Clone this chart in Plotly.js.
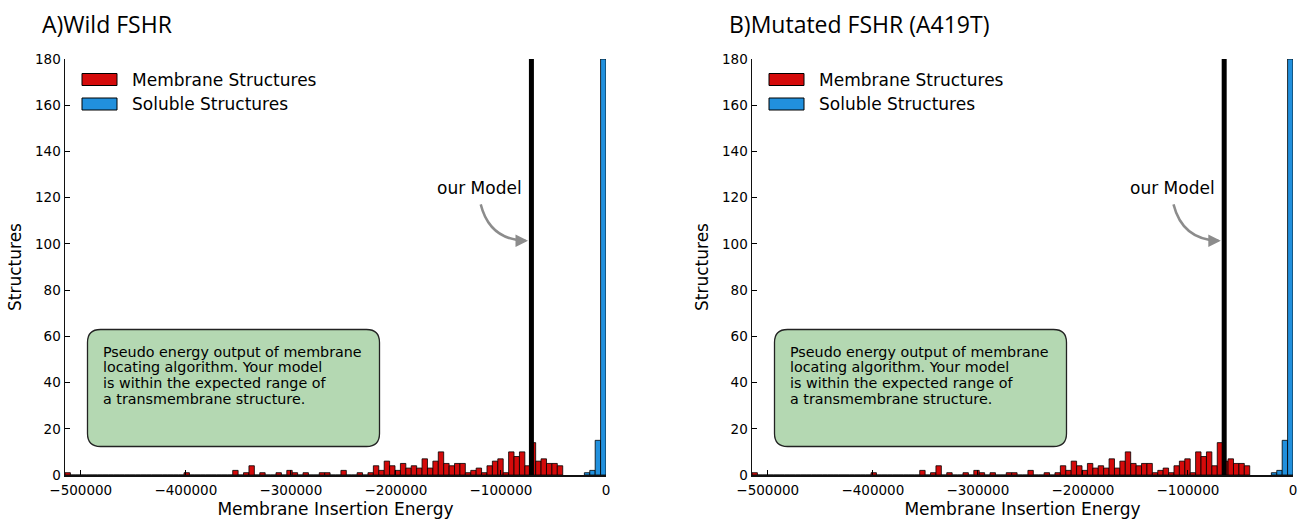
<!DOCTYPE html>
<html>
<head>
<meta charset="utf-8">
<script src="https://cdn.plot.ly/plotly-3.0.1.min.js"></script>
<style>html,body{margin:0;padding:0;background:#fff;}#chart{width:1298px;height:519px;}</style>
</head>
<body>
<div id="chart"></div>
<script>
// ---------------- data ----------------
const panelTitles = ['A)Wild FSHR', 'B)Mutated FSHR (A419T)'];
const modelEnergy = [-71000, -65500];
const legendLabels = ['Membrane Structures', 'Soluble Structures'];
const modelLabel = 'our Model';
const infoLines = [
  'Pseudo energy output of membrane',
  'locating algorithm. Your model',
  'is within the expected range of',
  'a transmembrane structure.'
];
const xTitle = 'Membrane Insertion Energy';
const yTitle = 'Structures';

// histogram bins (energy)
const binWidth = 5150;
const membraneBinStart = -515000;
const solubleBinStart = -20600;
const membraneCounts = [
  1,0,0,0,0,0,0,0,0,0, 0,0,0,0,0,0,0,0,0,0,
  0,0,1,0,0,0,0,0,0,0, 0,2,0,1,4,0,1,0,0,1,
  0,2,1,0,1,0,0,1,1,0, 0,2,0,0,1,0,1,4,2,6,
  4,2,5,3,4,3,7,3,6,10, 5,4,5,5,1,2,3,1,4,6,
  7,1,10,8,10,4,14,6,7,5, 5,4
];
const solubleCounts = [1, 2, 15, 180];

const xTickVals = [-500000, -400000, -300000, -200000, -100000, 0];
const xTickText = ['\u2212500000', '\u2212400000', '\u2212300000', '\u2212200000', '\u2212100000', '0'];
const yTickVals = [0, 20, 40, 60, 80, 100, 120, 140, 160, 180];

// ---------------- styling / geometry ----------------
const RED = '#d40a0a', BLUE = '#2190dd';
const FONT = 'DejaVu Sans';
const L = 65, R = 1293, T = 59, B = 475;
const px = x => (x - L) / (R - L);
const py = y => (B - y) / (B - T);
const panelShift = [0, 687];

function membraneX() { return membraneCounts.map((_, i) => membraneBinStart + (i + 0.5) * binWidth); }
function solubleX() { return solubleCounts.map((_, i) => solubleBinStart + (i + 0.5) * binWidth); }

function roundRect(x0, y0, x1, y1, r) {
  const X = v => px(v).toFixed(5), Y = v => py(v).toFixed(5);
  return 'M' + X(x0 + r) + ',' + Y(y0) +
    ' L' + X(x1 - r) + ',' + Y(y0) +
    ' Q' + X(x1) + ',' + Y(y0) + ' ' + X(x1) + ',' + Y(y0 + r) +
    ' L' + X(x1) + ',' + Y(y1 - r) +
    ' Q' + X(x1) + ',' + Y(y1) + ' ' + X(x1 - r) + ',' + Y(y1) +
    ' L' + X(x0 + r) + ',' + Y(y1) +
    ' Q' + X(x0) + ',' + Y(y1) + ' ' + X(x0) + ',' + Y(y1 - r) +
    ' L' + X(x0) + ',' + Y(y0 + r) +
    ' Q' + X(x0) + ',' + Y(y0) + ' ' + X(x0 + r) + ',' + Y(y0) + ' Z';
}

const traces = [];
const shapes = [];
const annotations = [];

panelTitles.forEach((title, p) => {
  const xa = p === 0 ? 'x' : 'x2';
  const ya = p === 0 ? 'y' : 'y2';
  const dx = panelShift[p];
  const m = modelEnergy[p];

  traces.push({
    type: 'bar', x: membraneX(), y: membraneCounts, width: binWidth,
    xaxis: xa, yaxis: ya, name: legendLabels[0], showlegend: false,
    marker: {color: RED, line: {color: '#000', width: 0.8}}, hoverinfo: 'skip'
  });
  traces.push({
    type: 'bar', x: solubleX(), y: solubleCounts, width: binWidth,
    xaxis: xa, yaxis: ya, name: legendLabels[1], showlegend: false,
    marker: {color: BLUE, line: {color: '#000', width: 0.8}}, hoverinfo: 'skip'
  });
  traces.push({
    type: 'scatter', mode: 'lines', x: [m, m], y: [0, 180],
    xaxis: xa, yaxis: ya, showlegend: false, hoverinfo: 'skip',
    line: {color: '#000', width: 5}
  });

  // panel title
  annotations.push({
    xref: 'paper', yref: 'paper', x: px(40 + dx), y: py(24), xanchor: 'left', yanchor: 'middle',
    text: title, showarrow: false, font: {family: 'Open Sans', size: 23, color: '#000'}
  });

  // legend
  [[RED, 79.5], [BLUE, 104]].forEach(([c, yc], k) => {
    shapes.push({
      type: 'rect', xref: 'paper', yref: 'paper',
      x0: px(82 + dx), x1: px(117 + dx), y0: py(yc - 6), y1: py(yc + 6),
      fillcolor: c, line: {color: '#000', width: 1}
    });
    annotations.push({
      xref: 'paper', yref: 'paper', x: px(129.5 + dx), y: py(yc), xanchor: 'left', yanchor: 'middle',
      text: legendLabels[k], showarrow: false, font: {family: FONT, size: 17, color: '#000'}
    });
  });

  // info box
  shapes.push({
    type: 'path', xref: 'paper', yref: 'paper', path: roundRect(87.5 + dx, 329.5, 379.5 + dx, 446.5, 13),
    fillcolor: 'rgb(180,216,178)', line: {color: '#222', width: 1.3}, layer: 'above'
  });
  const lineY = [351.5, 367.3, 383.1, 398.9];
  infoLines.forEach((t, k) => {
    annotations.push({
      xref: 'paper', yref: 'paper', x: px(101 + dx), y: py(lineY[k]), xanchor: 'left', yanchor: 'middle',
      text: t, showarrow: false, font: {family: FONT, size: 14.3, color: '#000'}
    });
  });

  // model label and curved arrow
  annotations.push({
    xref: xa, yref: ya, x: m - 7000, y: 124, xanchor: 'right', yanchor: 'middle',
    text: modelLabel, showarrow: false, font: {family: FONT, size: 17, color: '#000'}
  });
  shapes.push({
    type: 'path', xref: xa, yref: ya,
    path: 'M' + (m - 48260) + ',117.1 Q' + (m - 39700) + ',101.7 ' + (m - 5500) + ',101.4',
    line: {color: '#8c8c8c', width: 2.5}
  });
  annotations.push({
    xref: xa, yref: ya, x: m - 3240, y: 101.4, ax: -12, ay: 0,
    text: '', showarrow: true, arrowhead: 2, arrowsize: 1, arrowwidth: 2.5, arrowcolor: '#8c8c8c', standoff: 0
  });
});

function xAxis(domain, anchor) {
  return {
    domain: domain, anchor: anchor, range: [-515000, 0], autorange: false,
    tickvals: xTickVals, ticktext: xTickText, ticks: 'inside', ticklen: 5, tickwidth: 1, tickcolor: '#000',
    ticklabelstandoff: 2,
    showline: true, linecolor: '#111', linewidth: 1.5, showgrid: false, zeroline: false, mirror: false,
    tickfont: {family: FONT, size: 13.5, color: '#000'},
    title: {text: xTitle, font: {family: FONT, size: 17, color: '#000'}, standoff: 8},
    automargin: false, fixedrange: true
  };
}
function yAxis(anchor) {
  return {
    domain: [0, 1], anchor: anchor, range: [0, 180], autorange: false,
    tickvals: yTickVals, ticks: 'inside', ticklen: 5, tickwidth: 1, tickcolor: '#000',
    showline: true, linecolor: '#111', linewidth: 1.5, showgrid: false, zeroline: false, mirror: false,
    tickfont: {family: FONT, size: 13.5, color: '#000'},
    title: {text: yTitle, font: {family: FONT, size: 17, color: '#000'}, standoff: 9},
    automargin: false, fixedrange: true
  };
}

const layout = {
  width: 1298, height: 519,
  margin: {l: L, r: 1298 - R, t: T, b: 519 - B, pad: 0},
  paper_bgcolor: '#fff', plot_bgcolor: '#fff',
  font: {family: FONT, size: 13.5, color: '#000'},
  barmode: 'overlay', showlegend: false,
  xaxis: xAxis([0, px(606)], 'y'),
  yaxis: yAxis('x'),
  xaxis2: xAxis([px(752), 1], 'y2'),
  yaxis2: yAxis('x2'),
  shapes: shapes,
  annotations: annotations
};

Plotly.newPlot('chart', traces, layout, {displayModeBar: false, staticPlot: true});
</script>
</body>
</html>
